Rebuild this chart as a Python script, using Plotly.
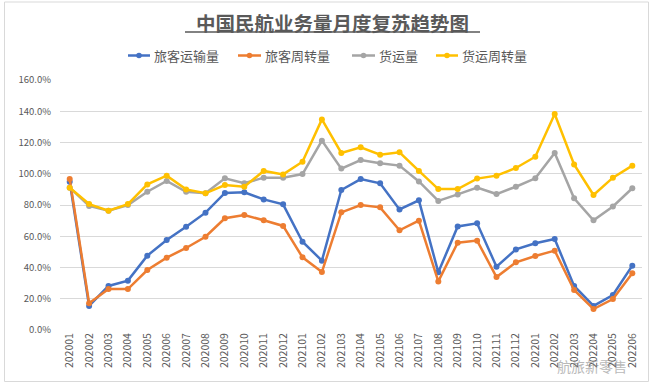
import plotly.graph_objects as go

months = ["202001","202002","202003","202004","202005","202006","202007","202008","202009","202010","202011","202012",
          "202101","202102","202103","202104","202105","202106","202107","202108","202109","202110","202111","202112",
          "202201","202202","202203","202204","202205","202206"]

passenger_volume = [94.9,15.4,28.2,31.6,47.6,57.6,66.1,75.1,87.7,88.1,83.6,80.4,
                    56.5,44.4,89.6,96.6,93.9,77.2,83.0,36.9,66.3,68.3,40.5,51.6,
                    55.5,58.2,28.2,15.4,22.4,41.2]
passenger_turnover = [96.6,17.1,26.2,26.2,38.4,46.3,52.5,59.7,71.5,73.6,70.2,66.6,
                      46.5,37.1,75.3,80.0,78.5,63.8,70.0,31.1,55.9,57.2,33.9,43.3,
                      47.4,50.8,25.6,13.4,19.8,36.3]
cargo_volume = [91.1,79.4,76.4,80.0,88.5,95.4,88.5,87.5,97.1,93.9,97.5,97.5,
                99.8,121.2,103.3,108.8,106.7,105.2,95.1,82.6,86.8,91.1,87.0,91.7,
                97.1,113.3,84.3,70.2,79.1,90.7]
cargo_turnover = [91.1,80.6,76.4,80.6,93.2,98.8,90.0,87.5,92.8,91.7,101.8,99.6,
                  107.7,134.8,113.3,116.9,112.2,113.7,101.8,90.2,90.2,96.9,98.8,103.7,
                  110.9,138.2,106.0,86.4,97.5,105.2]

series_names = ["旅客运输量", "旅客周转量", "货运量", "货运周转量"]
series_values = [passenger_volume, passenger_turnover, cargo_volume, cargo_turnover]
series_colors = ["#4472C4", "#ED7D31", "#A5A5A5", "#FFC000"]

title_text = "中国民航业务量月度复苏趋势图"
watermark_text = "航旅新零售"

font_family = "Noto Sans CJK SC, Noto Sans, sans-serif"

# plot area in pixels: x 60..642, y 80..330
L, R, T, B = 60, 642, 80, 330
def px(x):
    return (x - L) / (R - L)
def py(y):
    return (B - y) / (B - T)

fig = go.Figure()
for name, vals, color in zip(series_names, series_values, series_colors):
    fig.add_trace(go.Scatter(
        x=months, y=[v / 100 for v in vals], name=name, mode="lines+markers",
        line=dict(color=color, width=2.5),
        marker=dict(color=color, size=6),
        showlegend=False,
    ))

# manual legend (short symbols like the original)
legend_sym = [(128, 150, 152), (238, 261, 263), (352, 375, 377), (436, 458, 460)]
legend_y = 55.5
for name, color, (s0, s1, tx) in zip(series_names, series_colors, legend_sym):
    fig.add_shape(type="line", xref="paper", yref="paper",
                  x0=px(s0), x1=px(s1), y0=py(legend_y), y1=py(legend_y),
                  line=dict(color=color, width=2.5))
    cx = (s0 + s1) / 2
    fig.add_shape(type="circle", xref="paper", yref="paper",
                  x0=px(cx - 2.8), x1=px(cx + 2.8),
                  y0=py(legend_y + 2.8), y1=py(legend_y - 2.8),
                  line=dict(color=color, width=0), fillcolor=color)
    fig.add_annotation(xref="paper", yref="paper", x=px(tx), y=py(legend_y),
                       xanchor="left", yanchor="middle", showarrow=False,
                       text=name, font=dict(size=13, color="#595959", family=font_family))

# title
fig.add_annotation(xref="paper", yref="paper", x=px(332), y=py(22),
                   xanchor="center", yanchor="middle", showarrow=False,
                   text=title_text,
                   font=dict(size=19.5, color="#595959", family=font_family, weight="bold"))
fig.add_shape(type="line", xref="paper", yref="paper",
              x0=px(185), x1=px(480), y0=py(32), y1=py(32),
              line=dict(color="#595959", width=1.5))

# watermark
fig.add_annotation(xref="paper", yref="paper", x=px(592), y=py(366),
                   xanchor="center", yanchor="middle", showarrow=False,
                   text=watermark_text, opacity=0.6,
                   font=dict(size=14, color="#8C8C8C", family=font_family))

fig.update_layout(
    width=656, height=385,
    margin=dict(l=L, r=656 - R, t=T, b=385 - B),
    paper_bgcolor="white", plot_bgcolor="white",
    font=dict(family=font_family, color="#595959", size=10),
    showlegend=False,
)
fig.update_xaxes(type="category", range=[-0.5, len(months) - 0.5],
                 tickangle=-90, tickfont=dict(size=10.5, color="#595959"),
                 tickmode="linear", dtick=1, automargin=False,
                 showgrid=False, showline=False, ticks="", zeroline=False)
fig.update_yaxes(range=[0, 1.6], dtick=0.2, tickformat=".1%", automargin=False,
                 tickfont=dict(size=9.5, color="#595959"), ticklabelstandoff=8,
                 showgrid=True, gridcolor="#D9D9D9", gridwidth=1,
                 zeroline=False, showline=False, ticks="")
fig.add_shape(type="rect", xref="paper", yref="paper",
              x0=px(4.5), x1=px(648.5), y0=py(381.5), y1=py(2),
              line=dict(color="#D9D9D9", width=1), layer="below")

fig.write_html("out.html", post_script="document.body.style.margin='0';",
               config={"displayModeBar": False})
